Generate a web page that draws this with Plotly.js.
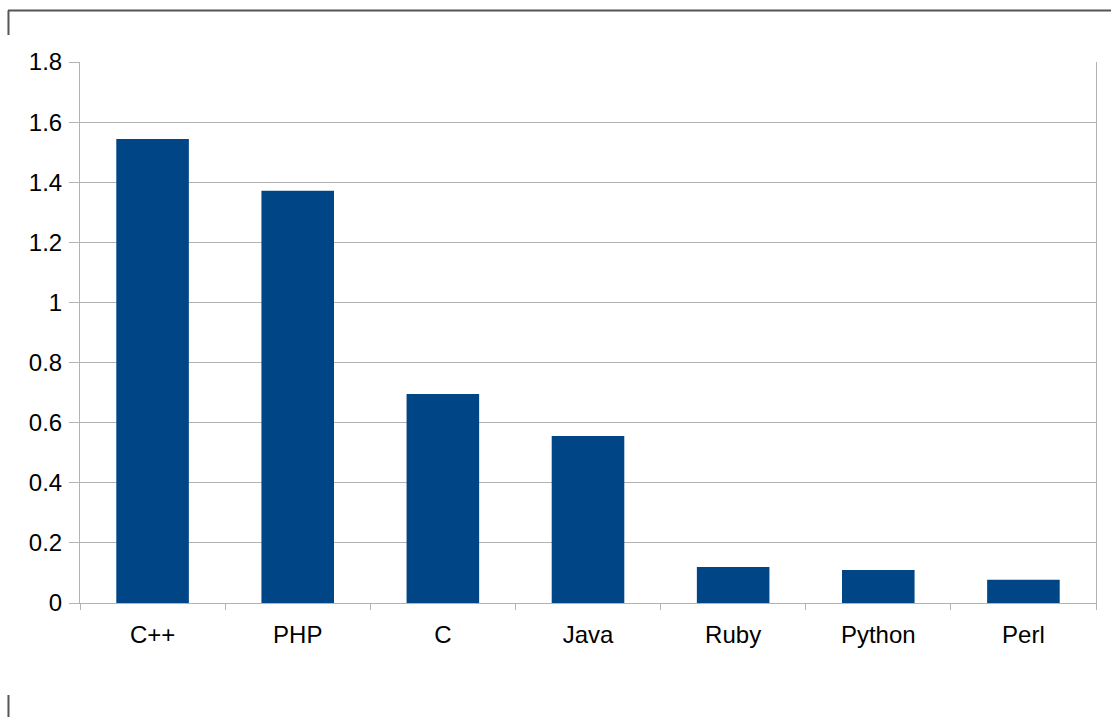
<!DOCTYPE html>
<html>
<head>
<meta charset="utf-8">
<script src="https://cdn.plot.ly/plotly-3.0.1.min.js"></script>
<style>html,body{margin:0;padding:0;background:#fff;}#chart{width:1111px;height:717px;}</style>
</head>
<body>
<div id="chart"></div>
<script>
const languages = ["C++", "PHP", "C", "Java", "Ruby", "Python", "Perl"];
const values = [1.544, 1.372, 0.695, 0.556, 0.120, 0.110, 0.077];
const yTickVals = [0, 0.2, 0.4, 0.6, 0.8, 1, 1.2, 1.4, 1.6, 1.8];
const yTickText = ["0", "0.2", "0.4", "0.6", "0.8", "1", "1.2", "1.4", "1.6", "1.8"];

const frameColor = "#555555";
const data = [{
  type: "bar",
  x: languages,
  y: values,
  marker: {color: "#004586"},
  width: 0.5,
  hoverinfo: "x+y"
}];

const layout = {
  width: 1111,
  height: 717,
  margin: {l: 80, r: 15, t: 62, b: 114},
  paper_bgcolor: "#ffffff",
  plot_bgcolor: "#ffffff",
  showlegend: false,
  font: {family: "Liberation Sans, Arial, sans-serif", size: 24, color: "#000000"},
  xaxis: {
    type: "category",
    tickson: "boundaries",
    ticks: "outside",
    ticklen: 6,
    tickcolor: "#b3b3b3",
    showline: true,
    linecolor: "#b3b3b3",
    linewidth: 1,
    showgrid: false,
    zeroline: false,
    ticklabelstandoff: 10,
    fixedrange: true
  },
  yaxis: {
    range: [0, 1.8],
    tickvals: yTickVals,
    ticktext: yTickText,
    ticks: "outside",
    ticklen: 10,
    tickcolor: "#b3b3b3",
    showline: true,
    mirror: true,
    linecolor: "#b3b3b3",
    linewidth: 1,
    showgrid: true,
    gridcolor: "#b3b3b3",
    gridwidth: 1,
    zeroline: false,
    ticklabelstandoff: 2,
    fixedrange: true
  },
  shapes: [
    {type: "line", xref: "paper", yref: "paper", x0: -0.0709, x1: 1.0148, y0: 1.0952, y1: 1.0952, line: {color: frameColor, width: 2}},
    {type: "line", xref: "paper", yref: "paper", x0: -0.0704, x1: -0.0704, y0: 1.0952, y1: 1.0499, line: {color: frameColor, width: 2}},
    {type: "line", xref: "paper", yref: "paper", x0: -0.0704, x1: -0.0704, y0: -0.170, y1: -0.2107, line: {color: frameColor, width: 2}}
  ]
};

Plotly.newPlot("chart", data, layout, {displayModeBar: false, staticPlot: true});
</script>
</body>
</html>
